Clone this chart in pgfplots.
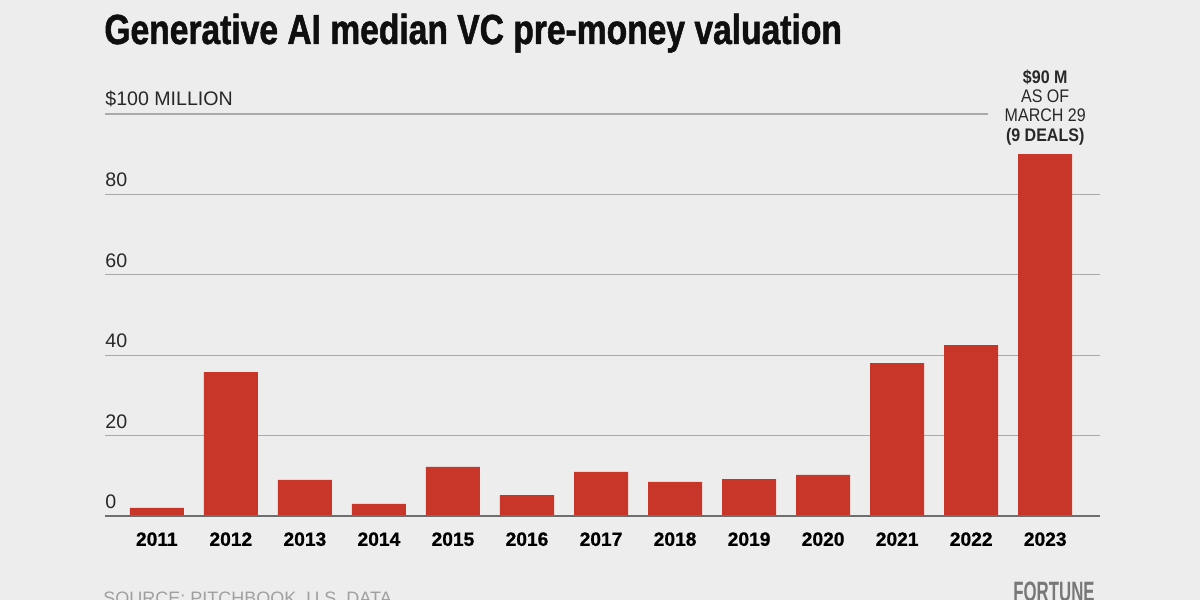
\documentclass[border=0pt]{standalone}
\usepackage{fontspec}
\setmainfont{Liberation Sans}
\newfontfamily\titlefont[FakeStretch=0.80,FakeBold=1.2]{Liberation Sans}
\newfontfamily\heavyfont[FakeBold=0.8]{Liberation Sans}
\newfontfamily\condfont[FakeStretch=0.88]{Liberation Sans}
\newfontfamily\logofont[FakeStretch=0.6]{Liberation Sans}
\usepackage{pgfplots}
\pgfplotsset{compat=1.18}
\definecolor{bgcol}{RGB}{236,237,236}
\definecolor{barred}{RGB}{199,54,41}
\definecolor{gridcol}{RGB}{170,170,170}
\definecolor{axiscol}{RGB}{110,110,110}
\definecolor{labcol}{RGB}{40,40,40}
\definecolor{titlecol}{RGB}{15,15,15}
\definecolor{srccol}{RGB}{160,160,160}
\definecolor{logocol}{RGB}{120,120,120}

\begin{document}
\begin{tikzpicture}
\useasboundingbox (0,0) rectangle (600pt,300pt);
\fill[bgcol] (0,0) rectangle (600pt,300pt);
\clip (0,0) rectangle (600pt,300pt);

% title
\node[anchor=base west, inner sep=0pt, text=titlecol] at (52pt,278pt)
  {\titlefont\bfseries\fontsize{21}{24}\selectfont Generative AI median VC pre-money valuation};

\begin{axis}[
  at={(52.5pt,42pt)}, anchor=south west,
  scale only axis, width=497.5pt, height=201pt,
  xmin=-0.7, xmax=12.74, ymin=0, ymax=100,
  ybar, bar width=0.73,
  axis line style={draw=none},
  major tick length=0pt,
  xtick={0,...,12},
  xticklabels={2011,2012,2013,2014,2015,2016,2017,2018,2019,2020,2021,2022,2023},
  ytick={0,20,40,60,80,100},
  yticklabels={0,20,40,60,80,\$100 MILLION},
  ymajorgrids, grid style={gridcol, line width=0.6pt},
  yticklabel style={anchor=south west, inner sep=0pt, yshift=3.5pt,
    font=\fontsize{9.8}{11}\selectfont, text=labcol},
  xticklabel style={anchor=north, inner sep=0pt, yshift=-8pt,
    font=\heavyfont\bfseries\fontsize{9.6}{11}\selectfont, text=black},
  clip=false,
]
% median pre-money valuation, $M
\addplot[fill=barred, draw=none] coordinates {
  (0,2) (1,35.8) (2,9) (3,3) (4,12.2) (5,5.2) (6,11)
  (7,8.5) (8,9.2) (9,10.2) (10,38) (11,42.5) (12,90)
};
\draw[axiscol, line width=0.7pt] (axis cs:-0.7,0) -- (axis cs:12.74,0);
\node[anchor=south, inner ysep=0pt, inner xsep=8.5pt, yshift=4.5pt, fill=bgcol,
  align=center, text=labcol,
  font=\condfont\fontsize{9.1}{9.6}\selectfont] at (axis cs:12,90)
  {\textbf{\$90 M}\\AS OF\\MARCH 29\\\textbf{(9 DEALS)}};
\end{axis}

\node[anchor=base west, inner sep=0pt, text=srccol, font=\fontsize{9}{10}\selectfont]
  at (51.5pt,-2pt) {SOURCE: PITCHBOOK, U.S. DATA};
\node[anchor=base west, inner sep=0pt, text=logocol, font=\logofont\bfseries\fontsize{14}{16}\selectfont]
  at (506.5pt,-1pt) {FORTUNE};
\end{tikzpicture}
\end{document}
